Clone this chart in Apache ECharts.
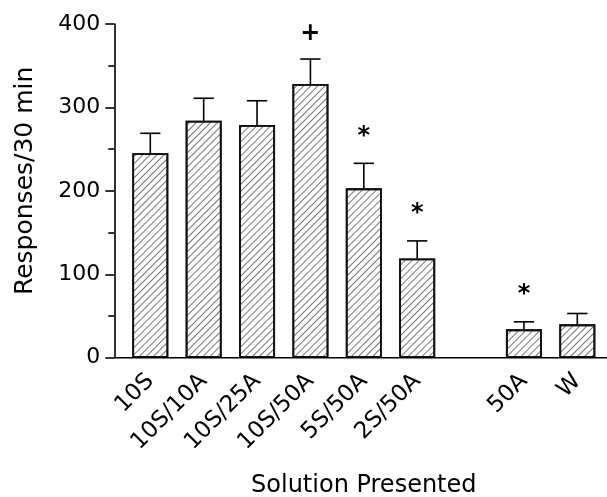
<!DOCTYPE html>
<html>
<head>
<meta charset="utf-8">
<script src="https://cdn.jsdelivr.net/npm/echarts@6/dist/echarts.min.js"></script>
<style>html,body{margin:0;padding:0;background:#fff}#c{width:607px;height:497px}</style>
</head>
<body>
<div id="c"></div>
<script>
// ---- data ----
const categories = ['10S', '10S/10A', '10S/25A', '10S/50A', '5S/50A', '2S/50A', '', '50A', 'W'];
const means = [245, 284, 279, 328, 203, 119, null, 34, 40];
const sems = [24, 27, 29, 30, 30, 21, null, 9, 13];
const marks = ['', '', '', '+', '*', '*', '', '*', ''];
const yTicks = [0, 100, 200, 300, 400];

// ---- layout ----
const FONT = 'DejaVu Sans';
const G = { left: 123.6, right: 3, top: 24, bottom: 139.3 };
const Y_OFFSET = 9.3;
const W = 607, H = 497;

const chart = echarts.init(document.getElementById('c'), null, { renderer: 'canvas' });

const errData = means.map((m, i) => (m == null ? [i, null, null, ''] : [i, m, m + sems[i], marks[i]]));

chart.setOption({
  animation: false,
  backgroundColor: '#fff',
  grid: { left: G.left, right: G.right, top: G.top, bottom: G.bottom, containLabel: false, outerBoundsMode: 'none' },
  xAxis: {
    type: 'category',
    data: categories,
    axisLine: { show: false },
    axisTick: { show: false },
    axisLabel: { rotate: 45, margin: 20, color: '#000', fontFamily: FONT, fontSize: 23, interval: 0 },
    name: 'Solution Presented',
    nameLocation: 'middle',
    nameGap: 116,
    nameTextStyle: { color: '#000', fontFamily: FONT, fontSize: 24 }
  },
  yAxis: {
    type: 'value',
    min: yTicks[0],
    max: yTicks[yTicks.length - 1],
    interval: 100,
    offset: Y_OFFSET,
    axisLine: { show: true, lineStyle: { color: '#000', width: 1.6 } },
    axisTick: { show: true, length: 9, lineStyle: { color: '#000', width: 1.6 } },
    minorTick: { show: true, splitNumber: 2, length: 6, lineStyle: { color: '#000', width: 1.6 } },
    splitLine: { show: false },
    axisLabel: { margin: 14, color: '#000', fontFamily: FONT, fontSize: 22 },
    name: 'Responses/30 min',
    nameLocation: 'middle',
    nameGap: 76,
    nameTextStyle: { color: '#000', fontFamily: FONT, fontSize: 25, padding: [0, 0, 0, 20] }
  },
  graphic: [{
    type: 'line',
    shape: { x1: G.left - Y_OFFSET, y1: H - G.bottom, x2: W, y2: H - G.bottom },
    style: { stroke: '#000', lineWidth: 1.6 },
    z: 10
  }],
  series: [{
    type: 'bar',
    data: means,
    barWidth: 36,
    itemStyle: {
      color: '#fff',
      borderColor: '#111',
      borderWidth: 1.8,
      decal: {
        symbol: 'rect',
        symbolSize: 1,
        dashArrayX: [1, 0],
        dashArrayY: [1, 3.5],
        rotation: -Math.PI / 4,
        color: 'rgba(60,60,60,0.7)'
      }
    },
    z: 2
  }, {
    type: 'custom',
    data: errData,
    z: 5,
    renderItem: function (params, api) {
      const m = api.value(1);
      if (m == null || isNaN(m)) return null;
      const i = api.value(0);
      const top = api.value(2);
      const p0 = api.coord([i, m]);
      const p1 = api.coord([i, top]);
      const half = api.size([1, 0])[0] * 0.19;
      const st = { stroke: '#000', lineWidth: 1.6 };
      const children = [
        { type: 'line', shape: { x1: p0[0], y1: p0[1], x2: p1[0], y2: p1[1] }, style: st },
        { type: 'line', shape: { x1: p1[0] - half, y1: p1[1], x2: p1[0] + half, y2: p1[1] }, style: st }
      ];
      const mk = marks[i];
      if (mk) {
        children.push({
          type: 'text',
          style: {
            text: mk, x: p1[0], y: p1[1] - (mk === '*' ? 27 : 25),
            textAlign: 'center', textVerticalAlign: 'middle',
            font: 'bold 24px "' + FONT + '"', fill: '#000'
          }
        });
      }
      return { type: 'group', children: children };
    }
  }]
});
</script>
</body>
</html>
